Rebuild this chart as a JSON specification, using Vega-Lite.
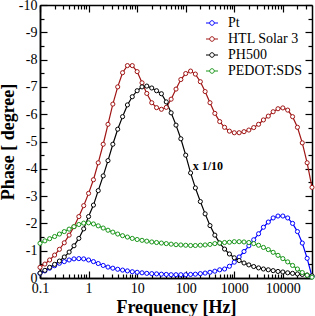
{
  "$schema": "https://vega.github.io/schema/vega-lite/v6.json",
  "width": 272,
  "height": 273,
  "autosize": "none",
  "padding": {"left": 40, "top": 5, "right": 3, "bottom": 38},
  "background": "white",
  "config": {
    "view": {"stroke": null},
    "font": "Liberation Serif",
    "axis": {
      "domainColor": "black", "domainWidth": 1.5,
      "tickColor": "black", "tickWidth": 1.2,
      "labelColor": "black", "labelFont": "Liberation Serif", "labelFontSize": 14,
      "titleFont": "Liberation Serif", "titleFontSize": 18, "titleFontWeight": "bold", "titleColor": "black",
      "grid": false
    }
  },
  "datasets": {
    "main": [
      {"f": 0.1, "Pt": -0.17, "HTL Solar 3": -0.39, "PH500": -0.18, "PEDOT:SDS": -1.27},
      {"f": 0.126, "Pt": -0.26, "HTL Solar 3": -0.51, "PH500": -0.28, "PEDOT:SDS": -1.36},
      {"f": 0.158, "Pt": -0.36, "HTL Solar 3": -0.66, "PH500": -0.39, "PEDOT:SDS": -1.44},
      {"f": 0.2, "Pt": -0.45, "HTL Solar 3": -0.84, "PH500": -0.5, "PEDOT:SDS": -1.52},
      {"f": 0.251, "Pt": -0.54, "HTL Solar 3": -1.05, "PH500": -0.62, "PEDOT:SDS": -1.61},
      {"f": 0.316, "Pt": -0.6, "HTL Solar 3": -1.29, "PH500": -0.77, "PEDOT:SDS": -1.7},
      {"f": 0.398, "Pt": -0.66, "HTL Solar 3": -1.57, "PH500": -0.95, "PEDOT:SDS": -1.79},
      {"f": 0.501, "Pt": -0.7, "HTL Solar 3": -1.88, "PH500": -1.18, "PEDOT:SDS": -1.88},
      {"f": 0.631, "Pt": -0.71, "HTL Solar 3": -2.25, "PH500": -1.45, "PEDOT:SDS": -1.96},
      {"f": 0.794, "Pt": -0.7, "HTL Solar 3": -2.65, "PH500": -1.8, "PEDOT:SDS": -2.01},
      {"f": 1, "Pt": -0.66, "HTL Solar 3": -3.1, "PH500": -2.25, "PEDOT:SDS": -2.02},
      {"f": 1.26, "Pt": -0.6, "HTL Solar 3": -3.6, "PH500": -2.67, "PEDOT:SDS": -1.98},
      {"f": 1.58, "Pt": -0.53, "HTL Solar 3": -4.22, "PH500": -3.2, "PEDOT:SDS": -1.91},
      {"f": 2, "Pt": -0.46, "HTL Solar 3": -4.9, "PH500": -3.74, "PEDOT:SDS": -1.83},
      {"f": 2.51, "Pt": -0.4, "HTL Solar 3": -5.63, "PH500": -4.3, "PEDOT:SDS": -1.75},
      {"f": 3.16, "Pt": -0.36, "HTL Solar 3": -6.37, "PH500": -4.9, "PEDOT:SDS": -1.68},
      {"f": 3.98, "Pt": -0.32, "HTL Solar 3": -7.0, "PH500": -5.45, "PEDOT:SDS": -1.61},
      {"f": 5.01, "Pt": -0.29, "HTL Solar 3": -7.52, "PH500": -5.91, "PEDOT:SDS": -1.55},
      {"f": 6.31, "Pt": -0.26, "HTL Solar 3": -7.78, "PH500": -6.34, "PEDOT:SDS": -1.5},
      {"f": 7.94, "Pt": -0.23, "HTL Solar 3": -7.78, "PH500": -6.64, "PEDOT:SDS": -1.45},
      {"f": 10, "Pt": -0.21, "HTL Solar 3": -7.56, "PH500": -6.86, "PEDOT:SDS": -1.41},
      {"f": 12.6, "Pt": -0.19, "HTL Solar 3": -7.15, "PH500": -7.0, "PEDOT:SDS": -1.38},
      {"f": 15.8, "Pt": -0.17, "HTL Solar 3": -6.76, "PH500": -7.03, "PEDOT:SDS": -1.35},
      {"f": 20, "Pt": -0.16, "HTL Solar 3": -6.42, "PH500": -6.96, "PEDOT:SDS": -1.32},
      {"f": 25.1, "Pt": -0.15, "HTL Solar 3": -6.24, "PH500": -6.86, "PEDOT:SDS": -1.3},
      {"f": 31.6, "Pt": -0.14, "HTL Solar 3": -6.18, "PH500": -6.75, "PEDOT:SDS": -1.28},
      {"f": 39.8, "Pt": -0.13, "HTL Solar 3": -6.25, "PH500": -6.45, "PEDOT:SDS": -1.26},
      {"f": 50.1, "Pt": -0.12, "HTL Solar 3": -6.55, "PH500": -6.05, "PEDOT:SDS": -1.24},
      {"f": 63.1, "Pt": -0.12, "HTL Solar 3": -6.92, "PH500": -5.6, "PEDOT:SDS": -1.22},
      {"f": 79.4, "Pt": -0.12, "HTL Solar 3": -7.27, "PH500": -5.1, "PEDOT:SDS": -1.21},
      {"f": 100, "Pt": -0.12, "HTL Solar 3": -7.49, "PH500": -4.5, "PEDOT:SDS": -1.2},
      {"f": 126, "Pt": -0.13, "HTL Solar 3": -7.58, "PH500": -3.85, "PEDOT:SDS": -1.19},
      {"f": 158, "Pt": -0.14, "HTL Solar 3": -7.47, "PH500": -3.3, "PEDOT:SDS": -1.19},
      {"f": 200, "Pt": -0.16, "HTL Solar 3": -7.19, "PH500": -2.8, "PEDOT:SDS": -1.2},
      {"f": 251, "Pt": -0.18, "HTL Solar 3": -6.83, "PH500": -2.35, "PEDOT:SDS": -1.21},
      {"f": 316, "Pt": -0.21, "HTL Solar 3": -6.42, "PH500": -1.92, "PEDOT:SDS": -1.23},
      {"f": 398, "Pt": -0.25, "HTL Solar 3": -6.03, "PH500": -1.57, "PEDOT:SDS": -1.26},
      {"f": 501, "Pt": -0.3, "HTL Solar 3": -5.73, "PH500": -1.28, "PEDOT:SDS": -1.28},
      {"f": 631, "Pt": -0.33, "HTL Solar 3": -5.52, "PH500": -1.06, "PEDOT:SDS": -1.3},
      {"f": 794, "Pt": -0.43, "HTL Solar 3": -5.38, "PH500": -0.88, "PEDOT:SDS": -1.31},
      {"f": 1000, "Pt": -0.58, "HTL Solar 3": -5.32, "PH500": -0.74, "PEDOT:SDS": -1.33},
      {"f": 1259, "Pt": -0.77, "HTL Solar 3": -5.32, "PH500": -0.64, "PEDOT:SDS": -1.33},
      {"f": 1585, "Pt": -0.97, "HTL Solar 3": -5.36, "PH500": -0.55, "PEDOT:SDS": -1.32},
      {"f": 1995, "Pt": -1.18, "HTL Solar 3": -5.42, "PH500": -0.48, "PEDOT:SDS": -1.3},
      {"f": 2512, "Pt": -1.4, "HTL Solar 3": -5.51, "PH500": -0.42, "PEDOT:SDS": -1.26},
      {"f": 3162, "Pt": -1.62, "HTL Solar 3": -5.63, "PH500": -0.37, "PEDOT:SDS": -1.2},
      {"f": 3981, "Pt": -1.86, "HTL Solar 3": -5.79, "PH500": -0.33, "PEDOT:SDS": -1.12},
      {"f": 5012, "Pt": -2.05, "HTL Solar 3": -5.93, "PH500": -0.3, "PEDOT:SDS": -1.04},
      {"f": 6310, "Pt": -2.2, "HTL Solar 3": -6.09, "PH500": -0.27, "PEDOT:SDS": -0.94},
      {"f": 7943, "Pt": -2.27, "HTL Solar 3": -6.2, "PH500": -0.24, "PEDOT:SDS": -0.83},
      {"f": 10000, "Pt": -2.27, "HTL Solar 3": -6.23, "PH500": -0.22, "PEDOT:SDS": -0.71},
      {"f": 12589, "Pt": -2.2, "HTL Solar 3": -6.15, "PH500": -0.19, "PEDOT:SDS": -0.59},
      {"f": 15849, "Pt": -2.0, "HTL Solar 3": -5.91, "PH500": -0.17, "PEDOT:SDS": -0.46},
      {"f": 19953, "Pt": -1.7, "HTL Solar 3": -5.52, "PH500": -0.15, "PEDOT:SDS": -0.33},
      {"f": 25119, "Pt": -1.28, "HTL Solar 3": -4.95, "PH500": -0.13, "PEDOT:SDS": -0.2},
      {"f": 31623, "Pt": -0.72, "HTL Solar 3": -4.22, "PH500": -0.11, "PEDOT:SDS": -0.1},
      {"f": 39811, "Pt": -0.05, "HTL Solar 3": -3.32, "PH500": -0.08, "PEDOT:SDS": -0.03}
    ],
    "note": [
      {"f": 139, "v": -4.11, "t": "x 1/10"}
    ]
  },
  "layer": [
    {
      "data": {"name": "main"},
      "transform": [{"fold": ["Pt", "HTL Solar 3", "PH500", "PEDOT:SDS"], "as": ["series", "phase"]}],
      "mark": {"type": "line", "strokeWidth": 1.2},
      "encoding": {
        "x": {
          "field": "f", "type": "quantitative",
          "scale": {"type": "log", "domain": [0.1, 39811], "nice": false},
          "axis": {
            "orient": "bottom", "title": "Frequency [Hz]", "ticks": false,
            "values": [0.1, 1, 10, 100, 1000, 10000],
            "labelExpr": "'' + datum.value",
            "labelPadding": 3, "titlePadding": 3, "labelFlush": false, "labelOverlap": false
          }
        },
        "y": {
          "field": "phase", "type": "quantitative",
          "scale": {"domain": [-10, 0], "reverse": true, "nice": false, "zero": false},
          "axis": {
            "orient": "left", "title": "Phase [ degree]", "ticks": false,
            "values": [-10,-9,-8,-7,-6,-5,-4,-3,-2,-1,0],
            "labelExpr": "'' + datum.value",
            "labelPadding": 3, "titlePadding": 1, "labelFlush": false, "labelOverlap": false
          }
        },
        "color": {
          "field": "series", "type": "nominal",
          "scale": {"domain": ["Pt", "HTL Solar 3", "PH500", "PEDOT:SDS"], "range": ["#0000ff", "#a01414", "#000000", "#1a961a"]},
          "legend": {
            "orient": "none", "legendX": 165, "legendY": 11, "title": null, "padding": 0,
            "symbolType": "M-1,0L-0.38,0M1,0L0.38,0M0.38,0A0.38,0.38,0,1,1,-0.38,0A0.38,0.38,0,1,1,0.38,0",
            "symbolSize": 144, "symbolStrokeWidth": 1, "symbolFillColor": "white",
            "labelFont": "Liberation Serif", "labelFontSize": 14, "labelColor": "black",
            "labelOffset": 9, "rowPadding": 2
          }
        }
      }
    },
    {
      "data": {"name": "main"},
      "transform": [{"fold": ["Pt", "HTL Solar 3", "PH500", "PEDOT:SDS"], "as": ["series", "phase"]}],
      "mark": {"type": "point", "filled": false, "fill": "white", "fillOpacity": 1, "size": 17, "strokeWidth": 1, "opacity": 1},
      "encoding": {
        "x": {
          "field": "f", "type": "quantitative",
          "scale": {"type": "log", "domain": [0.1, 39811], "nice": false},
          "axis": {
            "orient": "bottom", "title": null, "labels": false,
            "values": [0.1,0.2,0.3,0.4,0.5,0.6,0.7,0.8,0.9,1,2,3,4,5,6,7,8,9,10,20,30,40,50,60,70,80,90,100,200,300,400,500,600,700,800,900,1000,2000,3000,4000,5000,6000,7000,8000,9000,10000,20000,30000],
            "tickSize": {"condition": {"test": "indexof([0.1,1,10,100,1000,10000], datum.value) >= 0", "value": -7}, "value": -4}
          }
        },
        "y": {
          "field": "phase", "type": "quantitative",
          "scale": {"domain": [-10, 0], "reverse": true, "nice": false, "zero": false},
          "axis": {
            "orient": "left", "title": null, "labels": false,
            "values": [-10,-9.5,-9,-8.5,-8,-7.5,-7,-6.5,-6,-5.5,-5,-4.5,-4,-3.5,-3,-2.5,-2,-1.5,-1,-0.5,0],
            "tickSize": {"condition": {"test": "datum.value % 1 == 0", "value": -7}, "value": -4}
          }
        },
        "color": {
          "field": "series", "type": "nominal",
          "scale": {"domain": ["Pt", "HTL Solar 3", "PH500", "PEDOT:SDS"], "range": ["#0000ff", "#a01414", "#000000", "#1a961a"]},
          "legend": {
            "orient": "none", "legendX": 165, "legendY": 11, "title": null, "padding": 0,
            "symbolType": "M-1,0L-0.38,0M1,0L0.38,0M0.38,0A0.38,0.38,0,1,1,-0.38,0A0.38,0.38,0,1,1,0.38,0",
            "symbolSize": 144, "symbolStrokeWidth": 1, "symbolFillColor": "white",
            "labelFont": "Liberation Serif", "labelFontSize": 14, "labelColor": "black",
            "labelOffset": 9, "rowPadding": 2
          }
        }
      }
    },
    {
      "data": {"name": "note"},
      "mark": {"type": "text", "font": "Liberation Serif", "fontWeight": "bold", "fontSize": 12, "align": "left", "baseline": "middle", "color": "black"},
      "encoding": {
        "x": {
          "field": "f", "type": "quantitative",
          "scale": {"type": "log", "domain": [0.1, 39811], "nice": false},
          "axis": {
            "orient": "top", "title": null, "labels": false,
            "values": [0.1,0.2,0.3,0.4,0.5,0.6,0.7,0.8,0.9,1,2,3,4,5,6,7,8,9,10,20,30,40,50,60,70,80,90,100,200,300,400,500,600,700,800,900,1000,2000,3000,4000,5000,6000,7000,8000,9000,10000,20000,30000],
            "tickSize": {"condition": {"test": "indexof([0.1,1,10,100,1000,10000], datum.value) >= 0", "value": -7}, "value": -4}
          }
        },
        "y": {
          "field": "v", "type": "quantitative",
          "scale": {"domain": [-10, 0], "reverse": true, "nice": false, "zero": false},
          "axis": {
            "orient": "right", "title": null, "labels": false,
            "values": [-10,-9.5,-9,-8.5,-8,-7.5,-7,-6.5,-6,-5.5,-5,-4.5,-4,-3.5,-3,-2.5,-2,-1.5,-1,-0.5,0],
            "tickSize": {"condition": {"test": "datum.value % 1 == 0", "value": -7}, "value": -4}
          }
        },
        "text": {"field": "t", "type": "nominal"}
      }
    }
  ],
  "resolve": {"axis": {"x": "independent", "y": "independent"}}
}
